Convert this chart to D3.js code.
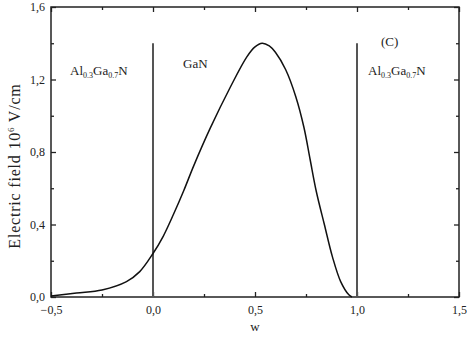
<!DOCTYPE html>
<html lang="en">
<head>
<meta charset="UTF-8">
<title>Electric field</title>
<script src="https://d3js.org/d3.v7.min.js"></script>
<style>
  body { margin: 0; background: #fff; }
  svg { display: block; font-family: 'Liberation Serif', 'Times New Roman', serif; }
</style>
</head>
<body>
<svg id="chart" width="467" height="338"></svg>
<script>
// curve
const wVals = [-0.5, -0.375, -0.25, -0.13, -0.065, 0, 0.05, 0.1, 0.15, 0.2, 0.28, 0.38, 0.46, 0.5, 0.535, 0.57, 0.6, 0.65, 0.7, 0.74, 0.77, 0.8, 0.84, 0.88, 0.92, 0.96, 0.975];
const fieldVals = [0.005, 0.022, 0.039, 0.085, 0.14, 0.24, 0.335, 0.455, 0.585, 0.725, 0.93, 1.16, 1.325, 1.38, 1.40, 1.385, 1.35, 1.255, 1.105, 0.935, 0.76, 0.585, 0.40, 0.22, 0.085, 0.012, 0];
const xTicks = [-0.5, 0, 0.5, 1, 1.5];
const yTicks = [0, 0.4, 0.8, 1.2, 1.6];
const interfaces = [0, 1];

const svg = d3.select("#chart");
const m = { left: 51, right: 8, top: 7, bottom: 41 };
const W = 467, H = 338;

const x = d3.scaleLinear().domain([-0.5, 1.5]).range([m.left, W - m.right]);
const y = d3.scaleLinear().domain([0, 1.6]).range([H - m.bottom, m.top]);
const fmt = d => d3.format(".1f")(d).replace(".", ",");

const ink = "#222";

// minor ticks
const xMinor = d3.range(-0.25, 1.5, 0.5);
const yMinor = d3.range(0.2, 1.6, 0.4);

function axisGroup(axis, tr) {
  const g = svg.append("g").attr("transform", tr).call(axis);
  g.attr("font-family", null).attr("font-size", null);
  g.select(".domain").remove();
  g.selectAll("line").attr("stroke", ink).attr("stroke-width", 1.3);
  g.selectAll("text").attr("fill", ink).style("font-size", "12px");
  return g;
}

// bottom
axisGroup(d3.axisBottom(x).tickValues(xTicks).tickFormat(fmt).tickSizeInner(-5).tickPadding(8), `translate(0,${H - m.bottom})`);
axisGroup(d3.axisBottom(x).tickValues(xMinor).tickFormat("").tickSizeInner(-3), `translate(0,${H - m.bottom})`);
// top
axisGroup(d3.axisTop(x).tickValues(xTicks).tickFormat("").tickSizeInner(-5), `translate(0,${m.top})`);
axisGroup(d3.axisTop(x).tickValues(xMinor).tickFormat("").tickSizeInner(-3), `translate(0,${m.top})`);
// left
axisGroup(d3.axisLeft(y).tickValues(yTicks).tickFormat(fmt).tickSizeInner(-5).tickPadding(6), `translate(${m.left},0)`);
axisGroup(d3.axisLeft(y).tickValues(yMinor).tickFormat("").tickSizeInner(-3), `translate(${m.left},0)`);
// right
axisGroup(d3.axisRight(y).tickValues(yTicks).tickFormat("").tickSizeInner(-5), `translate(${W - m.right},0)`);
axisGroup(d3.axisRight(y).tickValues(yMinor).tickFormat("").tickSizeInner(-3), `translate(${W - m.right},0)`);

// frame
svg.append("rect")
  .attr("x", m.left).attr("y", m.top)
  .attr("width", W - m.left - m.right).attr("height", H - m.top - m.bottom)
  .attr("fill", "none").attr("stroke", ink).attr("stroke-width", 1.5);

// interface lines
svg.selectAll(".iface").data(interfaces).enter().append("line")
  .attr("class", "iface")
  .attr("x1", d => x(d)).attr("x2", d => x(d))
  .attr("y1", y(1.4)).attr("y2", y(0))
  .attr("stroke", "#555").attr("stroke-width", 2);

// curve
const pts = wVals.map((w, i) => [w, fieldVals[i]]);
svg.append("path")
  .datum(pts)
  .attr("fill", "none")
  .attr("stroke", "#111")
  .attr("stroke-width", 1.5)
  .attr("d", d3.line().x(d => x(d[0])).y(d => y(d[1])).curve(d3.curveCatmullRom.alpha(0.5)));

// labels
function alGaN(xp, yp) {
  const t = svg.append("text").attr("x", xp).attr("y", yp).attr("font-size", 13).attr("fill", ink);
  t.append("tspan").text("Al");
  t.append("tspan").attr("font-size", 8).attr("dy", 3).text("0.3");
  t.append("tspan").attr("dy", -3).text("Ga");
  t.append("tspan").attr("font-size", 8).attr("dy", 3).text("0.7");
  t.append("tspan").attr("dy", -3).text("N");
}
alGaN(70, 75);
alGaN(368, 75);
svg.append("text").attr("x", 183).attr("y", 68).attr("font-size", 13).attr("fill", ink).text("GaN");
svg.append("text").attr("x", 381).attr("y", 46).attr("font-size", 13).attr("fill", ink).text("(C)");

// axis titles
svg.append("text").attr("x", x(0.5)).attr("y", 331).attr("text-anchor", "middle")
  .attr("font-size", 13).attr("fill", ink).text("w");

const yl = svg.append("text")
  .attr("transform", "translate(20,166) rotate(-90)")
  .attr("text-anchor", "middle").attr("font-size", 16).attr("letter-spacing", 0.8).attr("fill", ink);
yl.append("tspan").text("Electric field 10");
yl.append("tspan").attr("font-size", 9).attr("dy", -6).text("6");
yl.append("tspan").attr("dy", 6).text(" V/cm");
</script>
</body>
</html>
